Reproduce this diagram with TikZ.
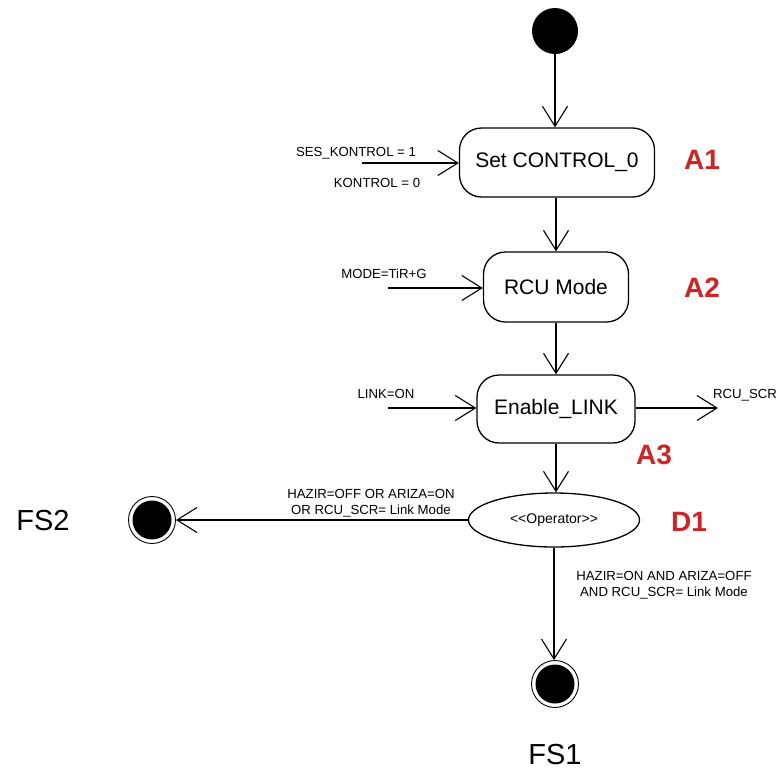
\documentclass[tikz,border=0pt]{standalone}
\usepackage{fontspec}
\setmainfont{Liberation Sans}[Ligatures=NoCommon]
\usetikzlibrary{arrows.meta,shapes.geometric}
\definecolor{lblred}{RGB}{208,36,36}
\begin{document}
\begin{tikzpicture}[x=1pt,y=-1pt,
  statebox/.style={draw,line width=1.3pt,rounded corners=22pt,inner sep=0pt,font=\fontsize{21}{24}\selectfont},
  flow/.style={line width=1.1pt,-{Straight Barb[length=20pt,width=25pt,line width=1.1pt]}},
  small/.style={inner sep=0pt,font=\fontsize{13.2}{16}\selectfont,align=center},
  tag/.style={inner sep=0pt,text=lblred,font=\fontsize{28}{30}\selectfont\bfseries},
  fsname/.style={inner sep=0pt,font=\fontsize{29}{30}\selectfont},
  initial/.style={circle,fill=black,minimum size=46pt,inner sep=0pt},
  final/.style={circle,draw,line width=0.9pt,minimum size=47pt,inner sep=0pt,
     path picture={\fill[black] (path picture bounding box.center) circle (19.5pt);}}]
\useasboundingbox (0,0) rectangle (779,774);
% nodes
\node[initial] (start) at (555,31) {};
\node[statebox,minimum width=195pt,minimum height=69pt] (a1) at (557,162.5) {Set CONTROL\_0};
\node[statebox,minimum width=145pt,minimum height=70pt] (a2) at (556,287) {RCU Mode};
\node[statebox,minimum width=158pt,minimum height=68pt] (a3) at (556,409) {Enable\_LINK};
\node[ellipse,draw,line width=1.3pt,minimum width=171pt,minimum height=54pt,inner sep=0pt,
      font=\fontsize{14}{16}\selectfont] (d1) at (554,520) {{<}{<}Operator{>}{>}};
\node[final] (fs1) at (555,684) {};
\node[final] (fs2) at (152,520) {};
% tags
\node[tag] (ta1) at (702,160) {A1};
\node[tag] (ta2) at (702,288) {A2};
\node[tag] (ta3) at (654,455) {A3};
\node[tag] (td1) at (689,522) {D1};
\node[fsname] (nfs1) at (555,755) {FS1};
\node[fsname] (nfs2) at (43,521) {FS2};
% free ends
\coordinate (in1) at (362,163);
\coordinate (in2) at (388,288);
\coordinate (in3) at (388,408);
\coordinate (out3) at (718,408);
% labels
\node[small] (l1a) at (356,153) {SES\_KONTROL = 1};
\node[small] (l1b) at (377,183) {KONTROL = 0};
\node[small] (l2) at (384,274) {MODE=TiR+G};
\node[small] (l3) at (386,394) {LINK=ON};
\node[small] (l4) at (745,395) {RCU\_SCR};
\node[small] (l5) at (371,503) {HAZIR=OFF OR ARIZA=ON\\OR RCU\_SCR= Link Mode};
\node[small] (l6) at (664,585) {HAZIR=ON AND ARIZA=OFF\\AND RCU\_SCR= Link Mode};
% connectors
\draw[flow] (start.south) -- (start.south |- a1.north);
\draw[flow] (a1.south -| a2.north) -- (a2.north);
\draw[flow] (a2.south) -- (a3.north);
\draw[flow] (a3.south) -- (a3.south |- d1.north);
\draw[flow] (d1.west) -- (fs2.east);
\draw[flow] (d1.south) -- (d1.south |- fs1.north);
\draw[flow] (in1) -- (in1 -| a1.west);
\draw[flow] (in2) -- (in2 -| a2.west);
\draw[flow] (in3) -- (in3 -| a3.west);
\draw[flow] (in3 -| a3.east) -- (out3);
\end{tikzpicture}
\end{document}
